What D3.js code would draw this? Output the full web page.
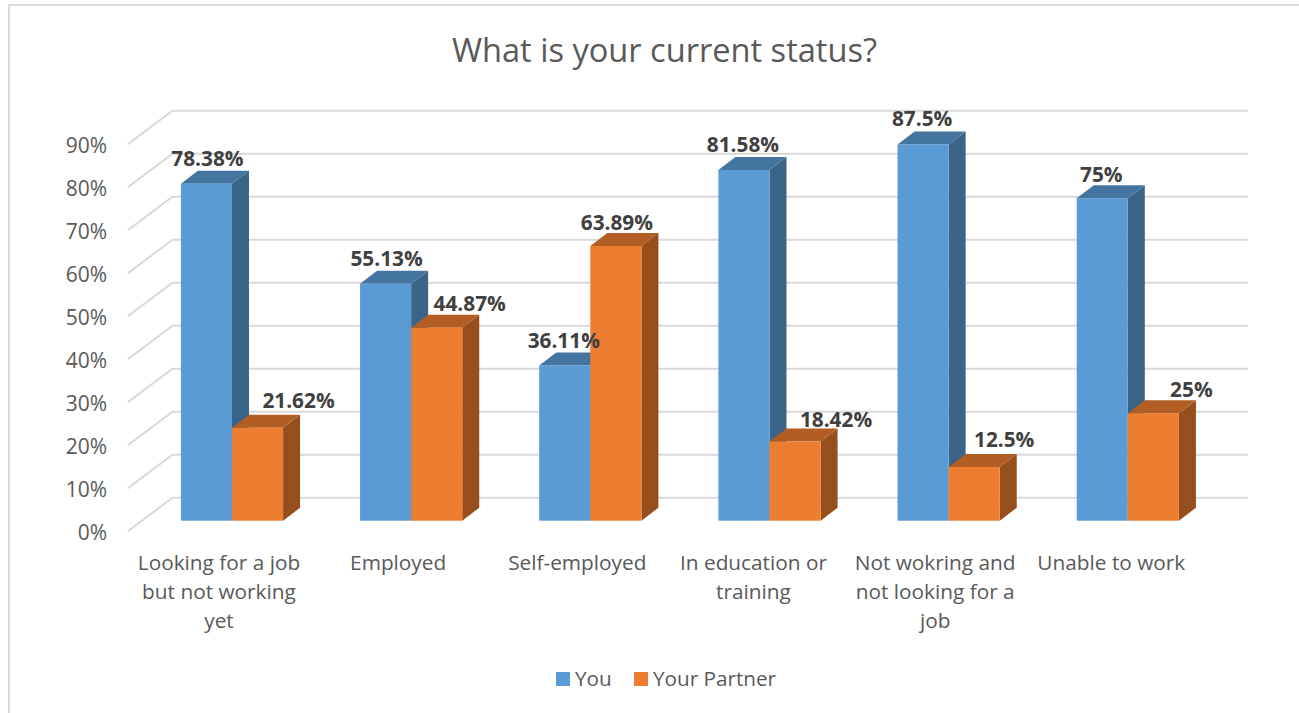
<!DOCTYPE html>
<html><head><meta charset="utf-8">
<script src="https://cdn.jsdelivr.net/npm/d3@7/dist/d3.min.js"></script>
<style>html,body{margin:0;padding:0;background:#fff;overflow:hidden}svg{display:block}text{font-family:"Open Sans",sans-serif}</style>
</head><body><svg id="c" width="1299" height="713"></svg>
<script>
const categories = [
  ["Looking for a job","but not working","yet"],
  ["Employed"],
  ["Self-employed"],
  ["In education or","training"],
  ["Not wokring and","not looking for a","job"],
  ["Unable to work"]
];
const seriesNames = ["You","Your Partner"];
const youValues = [78.38,55.13,36.11,81.58,87.5,75];
const partnerValues = [21.62,44.87,63.89,18.42,12.5,25];
const tickValues = [0,10,20,30,40,50,60,70,80,90];

// layout only
const colors = {front:["#5B9BD5","#ED7D31"],top:["#4475A0","#B15D24"],side:["#3A6488","#964F1C"]};
const labelDx = [[1,1,-1,-1,-1,-1],[41,33,1,41,30,38]];
const labelDy = [[1,1,2,1,1,3],[-1,2,3,5,-1,3]];
const catDx = [-13,-13,-13,-16,-13.5,-16.5];

const svg = d3.select("#c");
const groupW = 102.2;
const y = d3.scaleLinear().domain([0,90]).range([497.7,110.7]);
const x0 = d3.scaleBand().domain(d3.range(categories.length)).range([142.4,1217.4]);
const x1 = d3.scaleBand().domain(seriesNames).range([0,groupW]);
const groupPad = (x0.bandwidth()-groupW)/2;
const depth = {dx:17,dy:13};
const inset = 23, sideDx = 44.5, sideDy = 33.4;

// frame
svg.append("path").attr("d","M9,713V5H1299").attr("fill","none").attr("stroke","#d9d9d9").attr("stroke-width",2);

// grid
svg.append("g").selectAll("path").data(tickValues).join("path")
  .attr("d",v=>`M${172.5-sideDx},${y(v)+sideDy}L172.5,${y(v)}H1248`)
  .attr("fill","none").attr("stroke","#d9d9d9").attr("stroke-width",2);

// y axis
const axis = svg.append("g").attr("transform",`translate(107,${sideDy+2})`)
  .call(d3.axisLeft(y).tickValues(tickValues).tickSize(0).tickPadding(0).tickFormat(d=>d+"%"));
axis.select(".domain").remove();
axis.selectAll("text").attr("fill","#595959").attr("font-size",21);

// bars
const seriesVals = [youValues,partnerValues];
const bars = svg.append("g");
categories.forEach((c,i)=>{
  seriesNames.forEach((s,k)=>{
    const v = seriesVals[k][i];
    const l = x0(i)+groupPad+x1(s), w = x1.bandwidth(), r = l+w;
    const t = y(v)+inset, b = y(0)+inset;
    const {dx,dy} = depth;
    bars.append("path").attr("fill",colors.side[k]).attr("d",`M${r},${t}L${r+dx},${t-dy}V${b-dy}L${r},${b}Z`);
    bars.append("path").attr("fill",colors.top[k]).attr("d",`M${l},${t}L${l+dx},${t-dy}H${r+dx}L${r},${t}Z`);
    bars.append("rect").attr("fill",colors.front[k]).attr("x",l).attr("y",t).attr("width",w).attr("height",b-t);
  });
});

// value labels
categories.forEach((c,i)=>{
  seriesNames.forEach((s,k)=>{
    const v = seriesVals[k][i];
    svg.append("text").text(v+"%")
      .attr("x",x0(i)+groupPad+x1(s)+x1.bandwidth()/2+labelDx[k][i])
      .attr("y",y(v)+inset-depth.dy-6+labelDy[k][i])
      .attr("text-anchor","middle").attr("font-size",20.8).attr("font-weight",700).attr("fill","#404040");
  });
});

// category labels
categories.forEach((lines,i)=>{
  const cx = x0(i)+x0.bandwidth()/2+catDx[i];
  const t = svg.append("text").attr("text-anchor","middle").attr("font-size",20.8).attr("fill","#595959");
  lines.forEach((ln,j)=>t.append("tspan").attr("x",cx).attr("y",570+j*29).text(ln));
});

// title
svg.append("text").text("What is your current status?").attr("x",664.5).attr("y",62)
  .attr("text-anchor","middle").attr("font-size",32.6).attr("fill","#595959");

// legend
const legendX = [556,634];
seriesNames.forEach((s,k)=>{
  svg.append("rect").attr("x",legendX[k]).attr("y",672).attr("width",14).attr("height",14).attr("fill",colors.front[k]);
  svg.append("text").text(s).attr("x",legendX[k]+19).attr("y",686).attr("font-size",20.7).attr("fill","#595959");
});
</script></body></html>
